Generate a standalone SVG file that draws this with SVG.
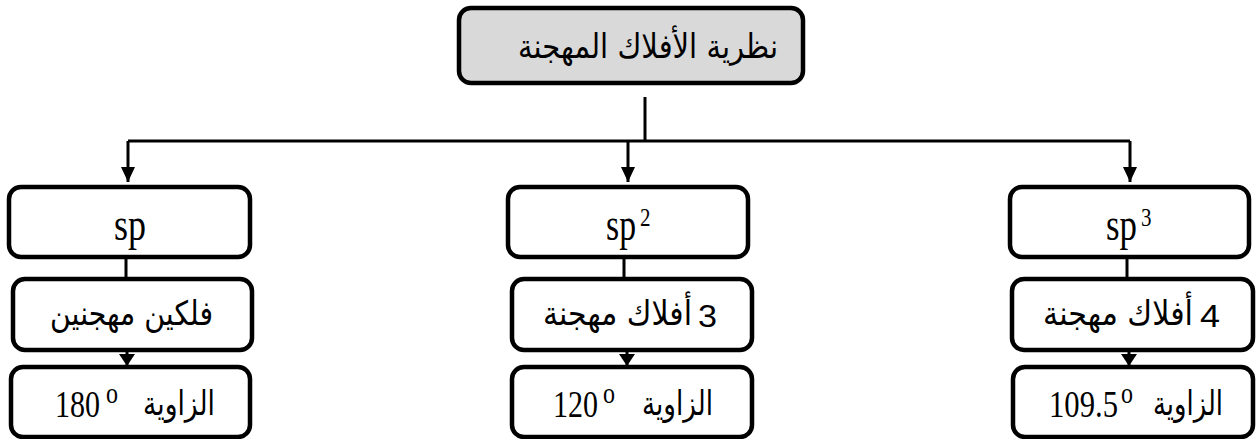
<svg xmlns="http://www.w3.org/2000/svg" width="1257" height="439" viewBox="0 0 1257 439">
<style>
.box{fill:#fff;stroke:#000;stroke-width:4.5}
.title{fill:#d9d9d9;stroke:#000;stroke-width:4.5}
.ln{fill:none;stroke:#000;stroke-width:3}
.ar{font-family:"DejaVu Sans","Liberation Sans",sans-serif;font-size:28px;fill:#000}
.sans{font-family:"Liberation Sans","DejaVu Sans",sans-serif;font-size:26px;fill:#000}
.tm{font-family:"Liberation Serif","DejaVu Serif",serif;font-size:39px;fill:#000}
.num{font-family:"Liberation Serif","DejaVu Serif",serif;font-size:31px;fill:#000}
.sup{font-family:"Liberation Serif","DejaVu Serif",serif;font-size:21px;fill:#000}
.deg{font-family:"Liberation Serif","DejaVu Serif",serif;font-size:24px;fill:#000}
</style>
<defs>
<marker id="ah" markerUnits="userSpaceOnUse" markerWidth="16" markerHeight="16" refX="15" refY="7" orient="auto">
<path d="M0 0 L15 7 L0 14 Z" fill="#000"/>
</marker>
<marker id="ahs" markerUnits="userSpaceOnUse" markerWidth="16" markerHeight="16" refX="12" refY="8" orient="auto">
<path d="M0 0 L12 8 L0 16 Z" fill="#000"/>
</marker>
</defs>
<g id="connectors">
<path class="ln" d="M645 97 V141"/>
<path class="ln" d="M128 141 H1130"/>
<path class="ln" d="M128 141 V182" marker-end="url(#ah)"/>
<path class="ln" d="M628 141 V182" marker-end="url(#ah)"/>
<path class="ln" d="M1130 141 V182" marker-end="url(#ah)"/>
<path class="ln" d="M126 257 V279"/>
<path class="ln" d="M624 257 V279"/>
<path class="ln" d="M1127 257 V279"/>
<path class="ln" d="M127 350 V366" marker-end="url(#ahs)"/>
<path class="ln" d="M627 350 V366" marker-end="url(#ahs)"/>
<path class="ln" d="M1129 350 V366" marker-end="url(#ahs)"/>
</g>
<g id="n-title">
<rect class="title" x="459" y="8" width="344" height="75" rx="12"/>
<text class="ar" transform="translate(518 58) scale(1 1.2)" textLength="260" lengthAdjust="spacingAndGlyphs">نظرية الأفلاك المهجنة</text>
</g>
<g id="n-sp">
<rect class="box" x="9" y="187" width="241" height="70" rx="12"/>
<text class="tm" transform="translate(114 240) scale(1 1.2)" textLength="32" lengthAdjust="spacingAndGlyphs">sp</text>
</g>
<g id="n-sp2">
<rect class="box" x="508" y="187" width="240" height="70" rx="12"/>
<text class="tm" transform="translate(606 240) scale(1 1.2)" textLength="30" lengthAdjust="spacingAndGlyphs">sp</text>
<text class="sup" transform="translate(640 226) scale(1 1.2)">2</text>
</g>
<g id="n-sp3">
<rect class="box" x="1010" y="187" width="239" height="70" rx="12"/>
<text class="tm" transform="translate(1106 240) scale(1 1.2)" textLength="31" lengthAdjust="spacingAndGlyphs">sp</text>
<text class="sup" transform="translate(1141 226) scale(1 1.2)">3</text>
</g>
<g id="n-two">
<rect class="box" x="13" y="279" width="239" height="71" rx="12"/>
<text class="ar" transform="translate(50 325) scale(1 1.2)" textLength="163" lengthAdjust="spacingAndGlyphs">فلكين مهجنين</text>
</g>
<g id="n-three">
<rect class="box" x="512" y="279" width="240" height="71" rx="12"/>
<text class="ar" transform="translate(543 325) scale(1 1.2)" textLength="149" lengthAdjust="spacingAndGlyphs">أفلاك مهجنة</text>
<text class="sans" transform="translate(698 327) scale(1 1.2)" textLength="19" lengthAdjust="spacingAndGlyphs">3</text>
</g>
<g id="n-four">
<rect class="box" x="1012" y="279" width="241" height="71" rx="12"/>
<text class="ar" transform="translate(1043 325) scale(1 1.2)" textLength="150" lengthAdjust="spacingAndGlyphs">أفلاك مهجنة</text>
<text class="sans" transform="translate(1200 327) scale(1 1.2)" textLength="20" lengthAdjust="spacingAndGlyphs">4</text>
</g>
<g id="n-a180">
<rect class="box" x="11" y="367" width="239" height="70" rx="12"/>
<text class="num" transform="translate(55 417) scale(1 1.2)" textLength="45" lengthAdjust="spacingAndGlyphs">180</text>
<text class="deg" transform="translate(106 403) scale(1 1.2)">o</text>
<text class="ar" transform="translate(143 415) scale(1 1.2)" textLength="72" lengthAdjust="spacingAndGlyphs">الزاوية</text>
</g>
<g id="n-a120">
<rect class="box" x="512" y="367" width="240" height="70" rx="12"/>
<text class="num" transform="translate(553 417) scale(1 1.2)" textLength="45" lengthAdjust="spacingAndGlyphs">120</text>
<text class="deg" transform="translate(603 403) scale(1 1.2)">o</text>
<text class="ar" transform="translate(642 415) scale(1 1.2)" textLength="71" lengthAdjust="spacingAndGlyphs">الزاوية</text>
</g>
<g id="n-a109">
<rect class="box" x="1013" y="367" width="240" height="70" rx="12"/>
<text class="num" transform="translate(1049 417) scale(1 1.2)" textLength="69" lengthAdjust="spacingAndGlyphs">109.5</text>
<text class="deg" transform="translate(1121 403) scale(1 1.2)">o</text>
<text class="ar" transform="translate(1153 415) scale(1 1.2)" textLength="70" lengthAdjust="spacingAndGlyphs">الزاوية</text>
</g>
</svg>
